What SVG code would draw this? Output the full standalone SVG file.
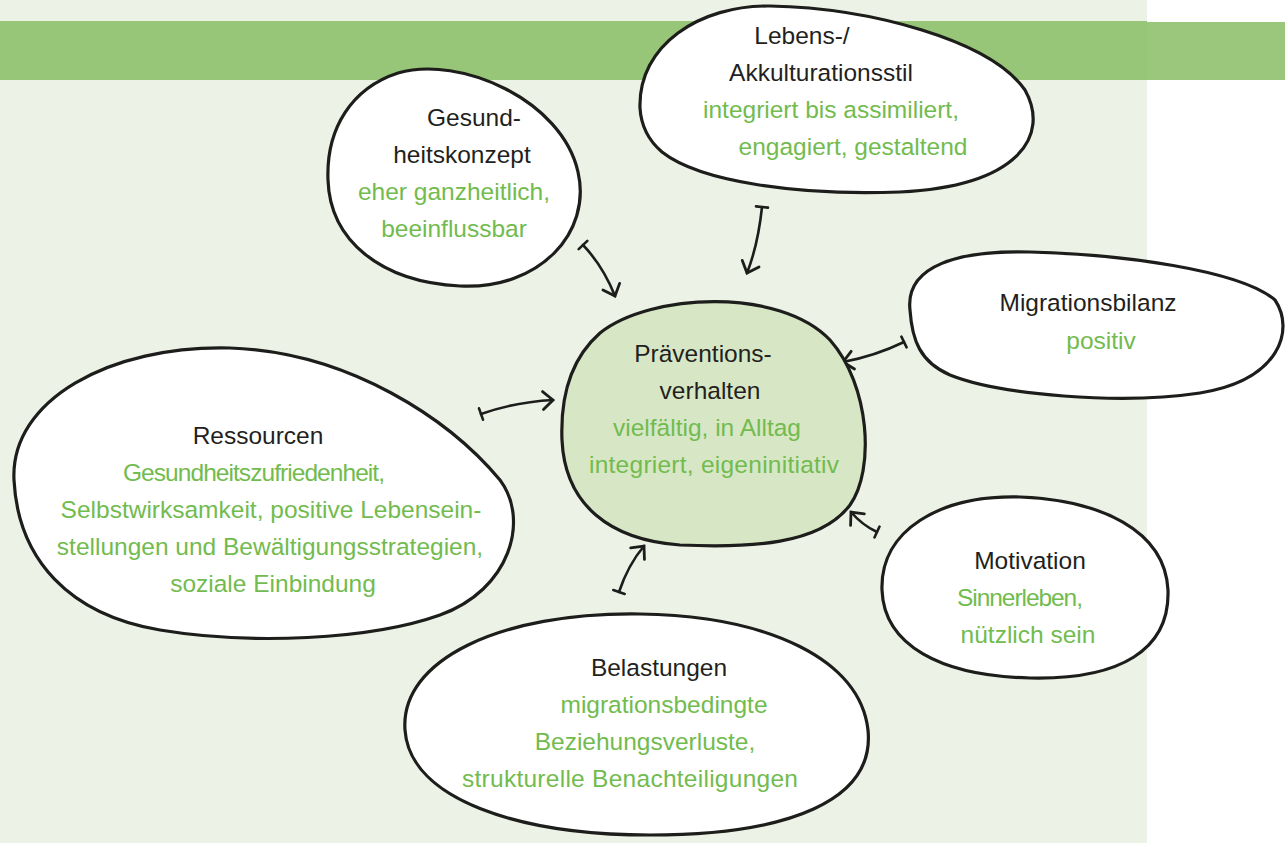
<svg xmlns="http://www.w3.org/2000/svg" width="1285" height="843" viewBox="0 0 1285 843">
  <defs>
    <style>
      .blob { fill: #ffffff; stroke: #1d1d1b; stroke-width: 3.2; }
      .core { fill: #d7e7c6; stroke: #1d1d1b; stroke-width: 3.2; }
      .t { font-family: "Liberation Sans", Arial, sans-serif; font-size: 24.5px; text-anchor: middle; }
      .h { fill: #231f20; }
      .g { fill: #72bb4e; }
      .link { fill: none; stroke: #1d1d1b; stroke-width: 2.6; stroke-linecap: round; marker-start: url(#tee); marker-end: url(#head); }
    </style>
    <marker id="head" markerUnits="userSpaceOnUse" markerWidth="30" markerHeight="30" refX="15" refY="15" orient="auto" viewBox="0 0 30 15" overflow="visible">
      <polyline points="5,6 15,15 5,24" fill="none" stroke="#1d1d1b" stroke-width="2.8" stroke-linecap="round" stroke-linejoin="miter"/>
    </marker>
    <marker id="tee" markerUnits="userSpaceOnUse" markerWidth="20" markerHeight="20" refX="10" refY="10" orient="auto" viewBox="0 0 20 20" overflow="visible">
      <line x1="10" y1="4" x2="10" y2="16" stroke="#1d1d1b" stroke-width="2.6" stroke-linecap="round"/>
    </marker>
  </defs>

  <!-- page background and header band -->
  <rect x="0" y="0" width="1285" height="843" fill="#ffffff"/>
  <rect x="0" y="0" width="1147" height="843" fill="#ecf3e6"/>
  <rect x="0" y="21" width="1147" height="59" fill="#98c679"/>
  <rect x="1147" y="22" width="138" height="58" fill="#9ac77c"/>

  <!-- connectors -->
  <g id="connectors">
    <path class="link" d="M 583,245 Q 603,266 615,296"/>
    <path class="link" d="M 762,207 Q 758,245 747,273"/>
    <path class="link" d="M 904,342 Q 875,356 843,362"/>
    <path class="link" d="M 481,414 Q 515,402 553,400"/>
    <path class="link" d="M 877,532 Q 862,525 851,512"/>
    <path class="link" d="M 619,592 Q 628,565 644,546"/>
  </g>

  <g id="gesundheitskonzept">
    <path class="blob" d="M 398,73 C 460,55 562,100 578,172 C 592,232 540,290 460,286 C 380,282 330,240 328,180 C 326,128 352,88 398,73 Z"/>
    <text class="t h" x="474" y="126">Gesund-</text>
    <text class="t h" x="462" y="163">heitskonzept</text>
    <text class="t g" x="454" y="200">eher ganzheitlich,</text>
    <text class="t g" x="454" y="237">beeinflussbar</text>
  </g>

  <g id="lebensstil">
    <path class="blob" d="M 640,108 C 638,45 700,5 770,6 C 870,8 990,40 1025,90 C 1050,135 1020,186 900,192 C 800,196 700,182 662,152 C 648,140 641,125 640,108 Z"/>
    <text class="t h" x="802" y="44">Lebens-/</text>
    <text class="t h" x="821" y="81">Akkulturationsstil</text>
    <text class="t g" x="831" y="118">integriert bis assimiliert,</text>
    <text class="t g" x="853" y="155">engagiert, gestaltend</text>
  </g>

  <g id="migrationsbilanz">
    <path class="blob" d="M 910,310 C 905,265 960,250 1030,252 C 1120,254 1240,270 1275,300 C 1295,330 1280,380 1200,393 C 1120,405 1000,395 950,375 C 920,362 912,340 910,310 Z"/>
    <text class="t h" x="1088" y="311">Migrationsbilanz</text>
    <text class="t g" x="1101" y="349">positiv</text>
  </g>

  <g id="praeventionsverhalten">
    <path class="core" d="M 600,333 C 650,293 780,287 830,340 C 870,385 875,470 850,505 C 820,545 750,548 680,545 C 610,540 565,505 562,440 C 560,390 575,355 600,333 Z"/>
    <text class="t h" x="703" y="362">Präventions-</text>
    <text class="t h" x="710" y="399">verhalten</text>
    <text class="t g" x="707" y="436">vielfältig, in Alltag</text>
    <text class="t g" x="714" y="473" textLength="250">integriert, eigeninitiativ</text>
  </g>

  <g id="ressourcen">
    <path class="blob" d="M 14,480 C 10,400 110,345 230,348 C 350,352 450,420 500,480 C 530,520 510,590 440,615 C 370,640 250,645 160,630 C 70,615 18,560 14,480 Z"/>
    <text class="t h" x="258" y="444">Ressourcen</text>
    <text class="t g" x="254" y="481" textLength="262">Gesundheitszufriedenheit,</text>
    <text class="t g" x="271" y="518">Selbstwirksamkeit, positive Lebensein-</text>
    <text class="t g" x="270" y="555">stellungen und Bewältigungsstrategien,</text>
    <text class="t g" x="273" y="592">soziale Einbindung</text>
  </g>

  <g id="motivation">
    <path class="blob" d="M 882,590 C 880,530 940,495 1020,497 C 1100,500 1165,530 1168,590 C 1170,650 1120,680 1030,678 C 940,676 884,645 882,590 Z"/>
    <text class="t h" x="1030" y="569">Motivation</text>
    <text class="t g" x="1020" y="606" textLength="126">Sinnerleben,</text>
    <text class="t g" x="1028" y="643">nützlich sein</text>
  </g>

  <g id="belastungen">
    <path class="blob" d="M 405,730 C 400,660 500,612 640,614 C 770,616 860,660 868,730 C 875,800 790,835 650,835 C 520,835 410,800 405,730 Z"/>
    <text class="t h" x="659" y="676">Belastungen</text>
    <text class="t g" x="664" y="713">migrationsbedingte</text>
    <text class="t g" x="645" y="750">Beziehungsverluste,</text>
    <text class="t g" x="630" y="787" textLength="336">strukturelle Benachteiligungen</text>
  </g>
</svg>
